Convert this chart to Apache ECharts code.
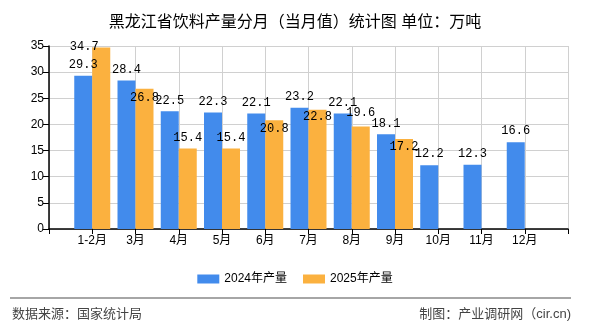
<!DOCTYPE html>
<html>
<head>
<meta charset="utf-8">
<script src="https://cdn.jsdelivr.net/npm/echarts@6/dist/echarts.min.js"></script>
<style>
html,body{margin:0;padding:0;background:#fff;}
#c{width:590px;height:330px;}
</style>
</head>
<body>
<div id="c"></div>
<script>
var titleText = '黑龙江省饮料产量分月（当月值）统计图 单位：万吨';
var categories = ['1-2月','3月','4月','5月','6月','7月','8月','9月','10月','11月','12月'];
var seriesNames = ['2024年产量','2025年产量'];
var values2024 = [29.3, 28.4, 22.5, 22.3, 22.1, 23.2, 22.1, 18.1, 12.2, 12.3, 16.6];
var values2025 = [34.7, 26.8, 15.4, 15.4, 20.8, 22.8, 19.6, 17.2];
var yTicks = {min: 0, max: 35, interval: 5};
var sourceText = '数据来源：国家统计局';
var creditText = '制图：产业调研网（cir.cn)';

// label placement tweaks (style only) for the 2025 series
var labelOffsets2025 = [[-17, 10], [0, 20], [0, 0], [0, 0], [0, 20], [0, 18], [0, -3], [0, 19]];

var FONT = '"Liberation Sans", "Noto Sans CJK SC", sans-serif';
var MONO = '"Liberation Mono", "DejaVu Sans Mono", monospace';

var axisCats = [''].concat(categories, ['']);
function pad(arr) {
  var out = [{value: '-'}];
  for (var i = 0; i < categories.length; i++) {
    out.push(i < arr.length ? arr[i] : '-');
  }
  out.push('-');
  return out;
}
var d2024 = pad(values2024);
var d2025 = pad(values2025).map(function (v, i) {
  var k = i - 1;
  if (k >= 0 && k < values2025.length) {
    return {value: values2025[k], label: {offset: labelOffsets2025[k]}};
  }
  return v;
});

var chart = echarts.init(document.getElementById('c'), null, {renderer: 'canvas'});
chart.setOption({
  animation: false,
  backgroundColor: '#fff',
  title: {
    text: titleText,
    left: 'center',
    top: 10,
    textStyle: {fontSize: 16, fontWeight: 'normal', color: '#000', fontFamily: FONT}
  },
  legend: {
    data: seriesNames,
    top: 268,
    left: 'center',
    itemWidth: 22,
    itemHeight: 9,
    itemGap: 16,
    textStyle: {fontSize: 12, color: '#000', fontFamily: FONT},
    icon: 'rect'
  },
  grid: {left: 49, right: 22, top: 46, bottom: 101, containLabel: false},
  xAxis: {
    type: 'category',
    data: axisCats,
    boundaryGap: false,
    axisLine: {show: true, lineStyle: {color: '#000', width: 1.5}},
    axisTick: {show: true, length: 5, interval: 0, lineStyle: {color: '#000'}},
    axisLabel: {interval: 0, fontSize: 12, color: '#000', fontFamily: FONT, margin: 6},
    splitLine: {show: true, interval: 0, lineStyle: {color: '#d0d0d0', width: 1}}
  },
  yAxis: {
    type: 'value',
    min: yTicks.min,
    max: yTicks.max,
    interval: yTicks.interval,
    axisLine: {show: true, lineStyle: {color: '#000', width: 1.5}},
    axisTick: {show: true, length: 6, lineStyle: {color: '#000'}},
    axisLabel: {fontSize: 12, color: '#000', fontFamily: FONT, margin: 5},
    splitLine: {show: true, lineStyle: {color: '#d0d0d0', width: 1}}
  },
  series: [
    {
      name: seriesNames[0],
      type: 'bar',
      data: d2024,
      barWidth: 18,
      barGap: '0%',
      itemStyle: {color: '#428BEC'},
      label: {show: true, position: 'top', distance: 5, fontSize: 12, color: '#000', fontFamily: MONO}
    },
    {
      name: seriesNames[1],
      type: 'bar',
      data: d2025,
      barWidth: 18,
      barGap: '0%',
      itemStyle: {color: '#FBB13F'},
      label: {show: true, position: 'top', distance: 5, fontSize: 12, color: '#000', fontFamily: MONO}
    }
  ],
  graphic: [
    {type: 'line', shape: {x1: 10, y1: 298, x2: 571, y2: 298}, style: {stroke: '#888', lineWidth: 1.5}},
    {type: 'text', left: 12, top: 308, style: {text: sourceText, fontSize: 13, fill: '#444', fontFamily: FONT}},
    {type: 'text', right: 19, top: 308, style: {text: creditText, fontSize: 13, fill: '#444', fontFamily: FONT}}
  ]
});
</script>
</body>
</html>
